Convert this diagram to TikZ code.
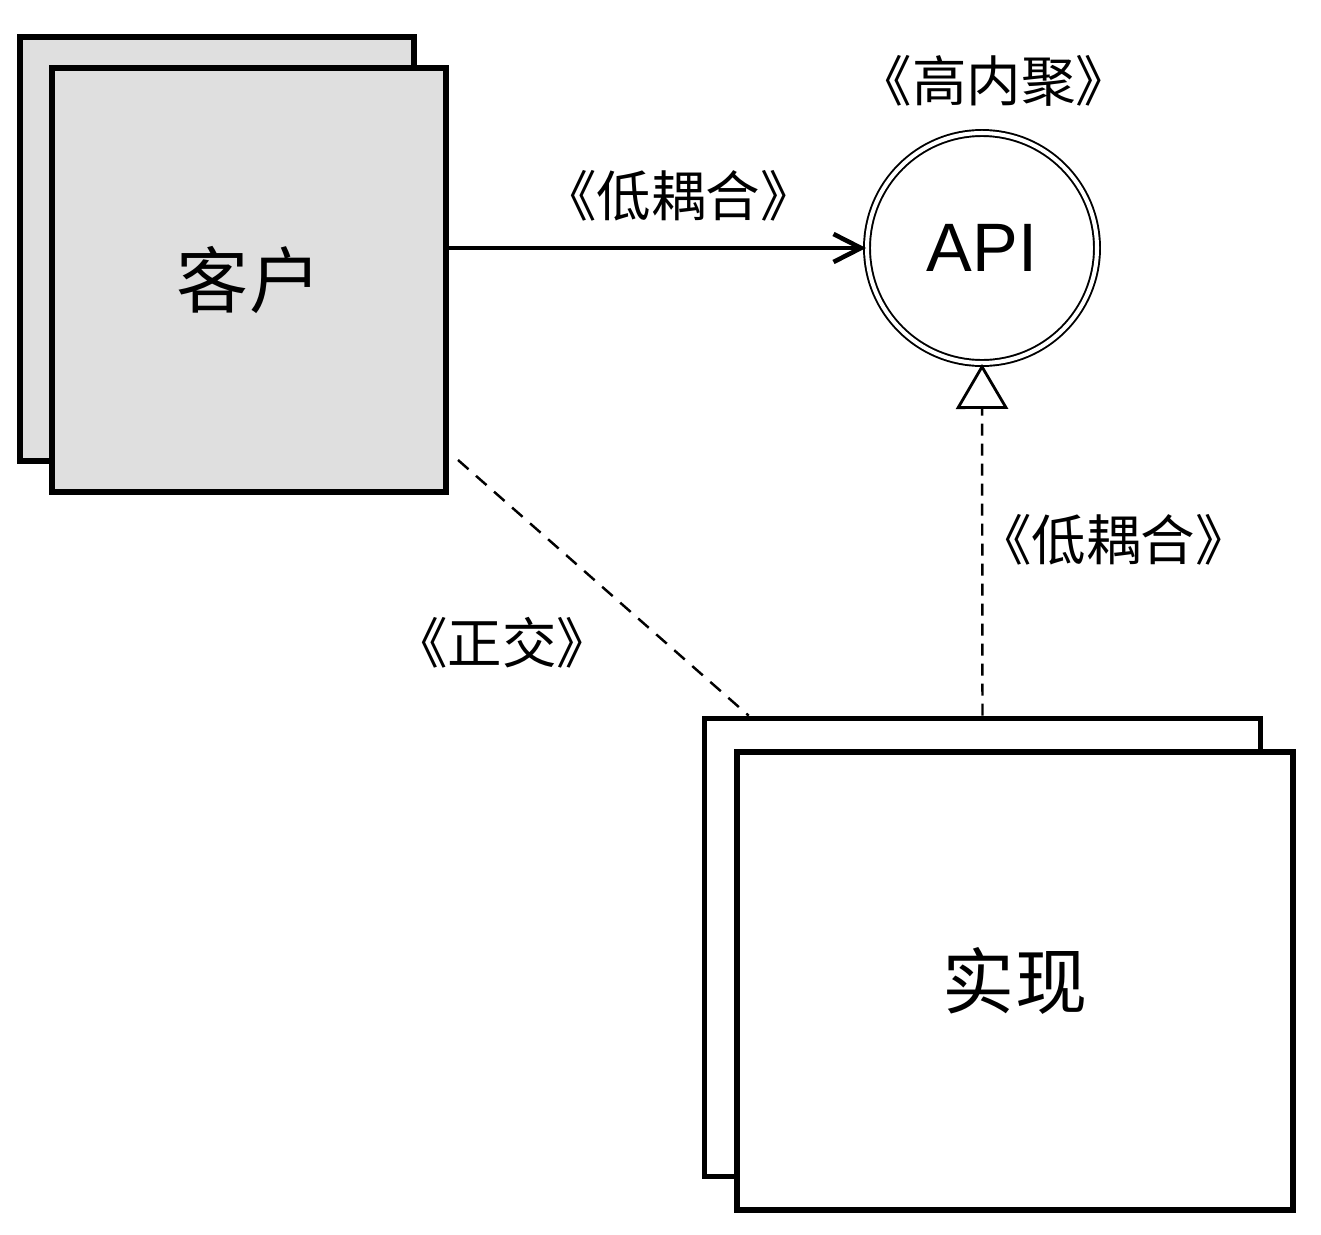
\documentclass[tikz,border=0pt]{standalone}
\usepackage{fontspec}
\setsansfont{Liberation Sans}
\newfontfamily\cjk{Noto Sans CJK SC}
\usetikzlibrary{arrows.meta,positioning}

\begin{document}
\begin{tikzpicture}[x=0.2mm,y=-0.2mm,>=Stealth,
  card/.style={draw,line width=3.2pt,inner sep=0pt,font=\cjk\fontsize{41}{44}\selectfont},
  client/.style={card,fill=gray!25,minimum width=78.8mm,minimum height=84.8mm},
  impl/.style={card,fill=white,minimum width=111.2mm,minimum height=91.6mm},
  iface/.style={circle,draw,line width=1.1pt,double=white,double distance=2.3pt,
    minimum size=46mm,inner sep=0pt,font=\sffamily\fontsize{39}{42}\selectfont},
  tag/.style={inner sep=0pt,font=\cjk\fontsize{31}{34}\selectfont},
  dep/.style={line width=2.6pt,-{Straight Barb[length=5.5mm,width=5.6mm]}},
  real/.style={line width=1.4pt,dash pattern=on 2.4mm off 1.6mm,
    -{Triangle[open,length=9mm,width=10.4mm,line width=1.6pt]}},
  orth/.style={line width=1.4pt,dash pattern=on 2.8mm off 2mm}]

  \useasboundingbox (0,0) rectangle (1321,1234);

  % client stack
  \node[client] (cb) at (217,249) {};
  \node[client] (cl) at (249,280) {客户};

  % implementation stack
  \node[impl] (ib) at (982.5,947.5) {};
  \node[impl] (im) at (1015,981) {实现};

  % interface
  \node[iface] (api) at (982,248) {API};
  \node[tag,above=5mm of api,xshift=2.4mm] (hc) {《高内聚》};

  \draw[dep] (cl.east |- api.west) -- node[tag,above=5mm,pos=0.55] (lc1) {《低耦合》} (api.west);
  \draw[real] (ib.north) -- node[tag,right=-1.2mm,pos=0.5] (lc2) {《低耦合》} (api.south);

  % orthogonal link
  \coordinate (o1) at (458,460);
  \draw[orth] (o1) -- ([xshift=9.4mm]ib.north west);
  \node[tag] (ortho) at (502,643) {《正交》};
\end{tikzpicture}
\end{document}
